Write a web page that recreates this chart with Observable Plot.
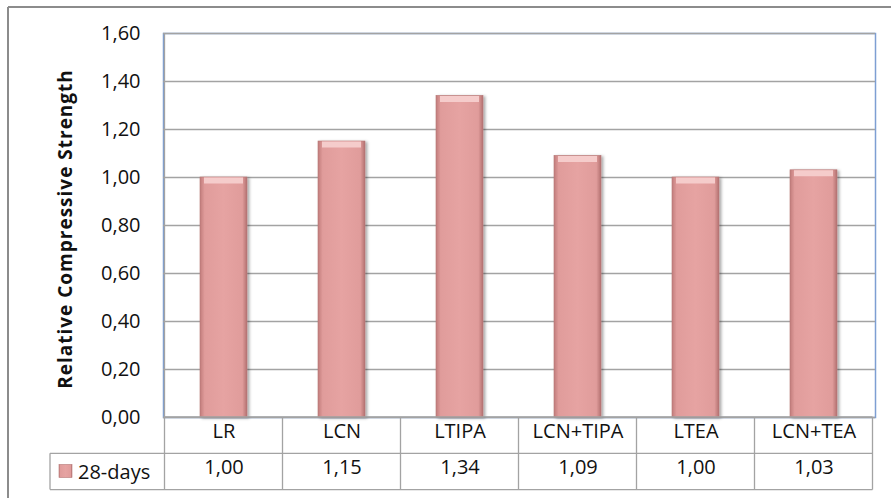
<!DOCTYPE html>
<html><head><meta charset="utf-8">
<script src="https://cdn.jsdelivr.net/npm/d3@7"></script>
<script src="https://cdn.jsdelivr.net/npm/@observablehq/plot@0.6"></script>
<style>
body{margin:0;background:#fff}
#chart svg{font-family:'Open Sans',sans-serif;overflow:visible}
</style>
</head><body><div id="chart"></div>
<script>
const categories = ["LR", "LCN", "LTIPA", "LCN+TIPA", "LTEA", "LCN+TEA"];
const values = [1.00, 1.15, 1.34, 1.09, 1.00, 1.03];
const seriesName = "28-days";
const yTicks = [0, 0.2, 0.4, 0.6, 0.8, 1.0, 1.2, 1.4, 1.6];
const yLabel = "Relative Compressive Strength";

const data = categories.map((c, i) => ({category: c, value: values[i]}));
const fmt = v => d3.format(".2f")(v).replace(".", ",");
const FS = 20;

const plot = Plot.plot({
  width: 891, height: 498,
  marginTop: 33, marginLeft: 163, marginRight: 16, marginBottom: 81,
  style: {fontFamily: "'Open Sans', sans-serif", fontSize: FS + "px", background: "#fff", color: "#000"},
  x: {domain: categories, paddingInner: 0.6, paddingOuter: 0.3, axis: null},
  y: {domain: [0, 1.6], label: null},
  marks: [
    Plot.frame({stroke: "#7e9fd3", strokeWidth: 1.5}),
    Plot.gridY(yTicks, {stroke: "#a3a3a3", strokeOpacity: 1, strokeWidth: 1.3}),
    Plot.axisY(yTicks, {tickSize: 0, tickPadding: 23, tickFormat: fmt, label: null, fontSize: FS, fill: "#111"}),
    Plot.barY(data, {x: "category", y: "value", fill: "url(#barGrad)", stroke: "#b57776", strokeWidth: 0.6}),
    Plot.tickY(data, {x: "category", y: "value", stroke: "#f5cccb", strokeWidth: 6, dy: 3, insetLeft: 4, insetRight: 4}),
    Plot.text(data, {x: "category", text: "category", frameAnchor: "bottom", dy: 20, fontSize: FS, fill: "#111"}),
    Plot.text(data, {x: "category", text: d => fmt(d.value), frameAnchor: "bottom", dy: 56, fontSize: FS, fill: "#111"})
  ]
});

const svg = d3.select(plot);
const defs = svg.insert("defs", ":first-child");
const g = defs.append("linearGradient").attr("id", "barGrad").attr("x1", 0).attr("x2", 1).attr("y1", 0).attr("y2", 0);
[[0, "#c17c7b"], [0.1, "#e09c9b"], [0.5, "#e6a3a2"], [0.9, "#e09c9b"], [1, "#b37170"]].forEach(([o, c]) =>
  g.append("stop").attr("offset", o).attr("stop-color", c));
const f = defs.append("filter").attr("id", "shadow").attr("x", "-20%").attr("y", "-10%").attr("width", "150%").attr("height", "130%");
f.append("feDropShadow").attr("dx", 2).attr("dy", 1).attr("stdDeviation", 1.5).attr("flood-color", "#000").attr("flood-opacity", 0.35);
svg.selectAll("g[aria-label='bar']").attr("filter", "url(#shadow)");

// table grid using Plot scales
const xs = plot.scale("x"), ys = plot.scale("y");
const step = xs.step, bw = xs.bandwidth;
const centers = categories.map(c => xs.apply(c) + bw / 2);
const left = centers[0] - step / 2, right = centers[centers.length - 1] + step / 2;
const y0 = ys.apply(0), yTop = ys.apply(1.6);
const rowH = 36.3;
const r1 = y0 + rowH, r2 = y0 + 2 * rowH;
const legendLeft = 50;
const lines = svg.append("g").attr("stroke", "#a3a3a3").attr("stroke-width", 1.3).attr("fill", "none");
lines.append("line").attr("x1", left).attr("x2", right).attr("y1", y0).attr("y2", y0);
lines.append("line").attr("x1", legendLeft).attr("x2", right).attr("y1", r1).attr("y2", r1);
lines.append("line").attr("x1", legendLeft).attr("x2", right).attr("y1", r2).attr("y2", r2);
lines.append("line").attr("x1", legendLeft).attr("x2", legendLeft).attr("y1", r1).attr("y2", r2);
lines.append("line").attr("x1", left).attr("x2", left).attr("y1", yTop).attr("y2", r2);
centers.forEach(c => lines.append("line").attr("x1", c + step / 2).attr("x2", c + step / 2).attr("y1", y0).attr("y2", r2));

// legend key
svg.append("rect").attr("x", 59).attr("y", 464.5).attr("width", 13).attr("height", 13)
  .attr("fill", "url(#barGrad)").attr("stroke", "#b57776").attr("stroke-width", 0.6);
svg.append("text").attr("x", 78).attr("y", (r1 + r2) / 2 + 1).attr("dy", "0.35em").attr("text-anchor", "start")
  .attr("font-size", FS).attr("fill", "#111").text(seriesName);

// y label
svg.append("text").attr("transform", `translate(65,${(yTop + y0) / 2 + 4}) rotate(-90)`)
  .attr("text-anchor", "middle").attr("dy", "0.35em").attr("font-size", 19).attr("font-weight", 700)
  .attr("letter-spacing", 1).attr("fill", "#111").text(yLabel);

// outer chart border
const ob = svg.append("g").attr("stroke", "#8c8c8c").attr("stroke-width", 2).attr("fill", "none");
ob.append("line").attr("x1", 8).attr("x2", 891).attr("y1", 7).attr("y2", 7);
ob.append("line").attr("x1", 8).attr("x2", 8).attr("y1", 7).attr("y2", 498);

document.getElementById("chart").appendChild(plot);
</script>
</body></html>
